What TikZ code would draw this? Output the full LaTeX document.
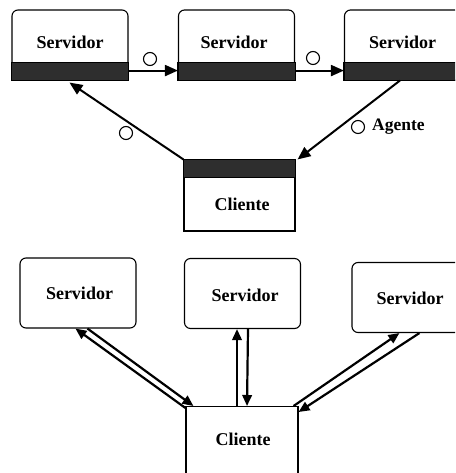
\documentclass[tikz,border=0pt]{standalone}
\usepackage{fontspec}
\setmainfont{Liberation Serif}
\usetikzlibrary{arrows.meta}
\begin{document}
\begin{tikzpicture}[x=1pt,y=-1pt,
  box/.style={draw, line width=1.1pt, inner sep=0pt, minimum width=116pt, minimum height=70pt},
  rbox/.style={box, rounded corners=6pt},
  cbox/.style={draw, line width=1.1pt, inner sep=0pt, minimum width=111pt, minimum height=71pt},
  band/.style={fill=black!82, draw=black, line width=1.1pt},
  lbl/.style={inner sep=0pt, font=\fontsize{18}{20}\selectfont\bfseries},
  small/.style={inner sep=0pt, font=\fontsize{17.5}{19}\selectfont\bfseries},
  ring/.style={circle, draw, line width=1.1pt, minimum size=13pt, inner sep=0pt},
  flow/.style={line width=2pt, -{Triangle[length=13pt, width=11pt]}},
  link/.style={line width=2.2pt, -{Triangle[length=11pt, width=9.5pt]}}]
\clip (0,0) rectangle (455,473);

% ---- upper diagram: agent travelling through the servers ----
\node[rbox] (s1) at (70,45) {};
\node[rbox] (s2) at (236.5,45) {};
\node[rbox] (s3) at (402.5,45) {};
\foreach \s in {s1,s2,s3}
  \draw[band] (\s.south west) rectangle ([shift={(0,-18)}]\s.south east);
\node[lbl] (ts1) at (70,42) {Servidor};
\node[lbl] (ts2) at (234,42) {Servidor};
\node[lbl] (ts3) at (402.5,42) {Servidor};

\node[cbox] (cl) at (239.5,195.5) {};
\draw[band] (cl.north west) rectangle ([shift={(0,18)}]cl.north east);
\node[lbl] (tcl) at (242,204) {Cliente};

\draw[flow] ([shift={(0,-10)}]s1.south east) -- ([shift={(0,-10)}]s2.south west);
\draw[flow] ([shift={(0,-10)}]s2.south east) -- ([shift={(0,-10)}]s3.south west);
\draw[flow] (cl.north west) -- ([shift={(58,2)}]s1.south west);
\draw[flow] ([shift={(56,0)}]s3.south west) -- ([shift={(2,0)}]cl.north east);

\node[ring] (o1) at (150,59) {};
\node[ring] (o2) at (313,58) {};
\node[ring] (o3) at (126,133) {};
\node[ring] (o4) at (358,127) {};
\node[small, anchor=west] (ag) at (372,127) {Agente};

% ---- lower diagram: client talking to each server ----
\node[rbox] (b1) at (78,293) {};
\node[rbox] (b2) at (242.5,293.5) {};
\node[rbox] (b3) at (410,297.5) {};
\node[lbl] (tb1) at (79.5,293) {Servidor};
\node[lbl] (tb2) at (245,295) {Servidor};
\node[lbl] (tb3) at (410,298) {Servidor};

\node[box, minimum width=112pt, minimum height=90pt, anchor=north] (cb) at (242,406) {};
\node[lbl] (tcb) at (243,439) {Cliente};

\draw[link] ([shift={(68,0)}]b1.south west) -- ([shift={(8,0)}]cb.north west);
\draw[link] ([shift={(0,2)}]cb.north west) -- ([shift={(56,0)}]b1.south west);
\draw[link] ([shift={(-5,0)}]cb.north) -- ([shift={(-5.5,0)}]b2.south);
\draw[link] ([shift={(5.5,0)}]b2.south) -- ([shift={(5,0)}]cb.north);
\draw[link] ([shift={(-5,0)}]cb.north east) -- ([shift={(48,0)}]b3.south west);
\draw[link] ([shift={(68,0)}]b3.south west) -- ([shift={(0,6)}]cb.north east);
\end{tikzpicture}
\end{document}
